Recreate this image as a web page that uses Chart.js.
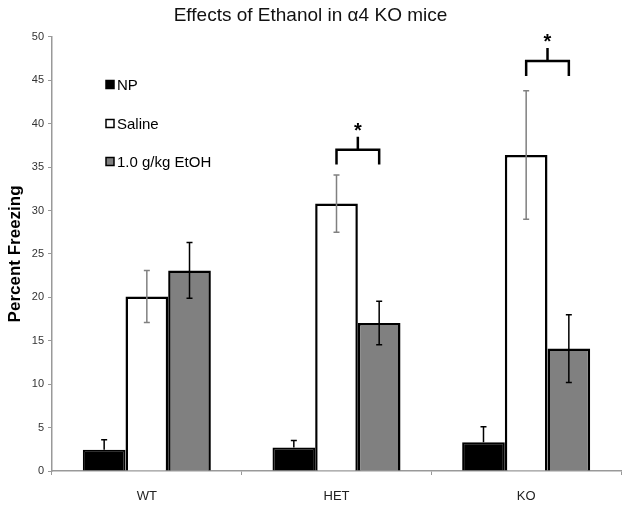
<!DOCTYPE html>
<html>
<head>
<meta charset="utf-8">
<script src="https://cdn.jsdelivr.net/npm/chart.js@4"></script>
<style>
  body { margin: 0; background: #fff; }
  #wrap { width: 628px; height: 509px; position: relative; }
</style>
</head>
<body>
<div id="wrap"><canvas id="freezeChart"></canvas></div>
<script>
// values
const categories = ['WT', 'HET', 'KO'];
const seriesNames = ['NP', 'Saline', '1.0 g/kg EtOH'];
const npValues = [2.45, 2.7, 3.3];
const npErrors = [1.15, 0.8, 1.8];
const salineValues = [20.1, 30.8, 36.4];
const salineErrors = [3.0, 3.3, 7.4];
const etohValues = [23.1, 17.05, 14.1];
const etohErrors = [3.2, 2.5, 3.9];

// significance brackets (Saline vs EtOH), leg bottom in percent units
const sigCategories = ['HET', 'KO'];
const sigLevels = [35.3, 45.5];

Chart.defaults.font.family = '"Liberation Sans", Arial, sans-serif';

const errorBars = {
    id: 'errorBars',
    afterDatasetsDraw(chart) {
        const ctx = chart.ctx;
        const yScale = chart.scales.y;
        chart.data.datasets.forEach((ds, di) => {
            const meta = chart.getDatasetMeta(di);
            meta.data.forEach((bar, i) => {
                const v = ds.data[i];
                const e = ds.errors[i];
                const top = yScale.getPixelForValue(v + e);
                const bottom = yScale.getPixelForValue(ds.upOnly ? v : v - e);
                ctx.save();
                ctx.strokeStyle = ds.errorColor;
                ctx.lineWidth = 1.5;
                ctx.beginPath();
                ctx.moveTo(bar.x, top);
                ctx.lineTo(bar.x, bottom);
                ctx.moveTo(bar.x - 3, top);
                ctx.lineTo(bar.x + 3, top);
                if (!ds.upOnly) {
                    ctx.moveTo(bar.x - 3, bottom);
                    ctx.lineTo(bar.x + 3, bottom);
                }
                ctx.stroke();
                ctx.restore();
            });
        });
    }
};

const sigBrackets = {
    id: 'sigBrackets',
    afterDatasetsDraw(chart) {
        const ctx = chart.ctx;
        const yScale = chart.scales.y;
        const salineMeta = chart.getDatasetMeta(1);
        const etohMeta = chart.getDatasetMeta(2);
        sigCategories.forEach((cat, j) => {
            const i = categories.indexOf(cat);
            const x1 = salineMeta.data[i].x;
            const x2 = etohMeta.data[i].x;
            const xm = (x1 + x2) / 2;
            const yLeg = yScale.getPixelForValue(sigLevels[j]);
            const yBar = yScale.getPixelForValue(sigLevels[j] + 1.7);
            const yStem = yScale.getPixelForValue(sigLevels[j] + 3.2);
            const yStar = yScale.getPixelForValue(sigLevels[j] + 4.5);
            ctx.save();
            ctx.strokeStyle = '#000';
            ctx.lineWidth = 2.5;
            ctx.beginPath();
            ctx.moveTo(x1, yLeg);
            ctx.lineTo(x1, yBar);
            ctx.lineTo(x2, yBar);
            ctx.lineTo(x2, yLeg);
            ctx.moveTo(xm, yBar);
            ctx.lineTo(xm, yStem);
            ctx.stroke();
            ctx.fillStyle = '#000';
            ctx.font = 'bold 20px "Liberation Sans", Arial, sans-serif';
            ctx.textAlign = 'center';
            ctx.textBaseline = 'alphabetic';
            ctx.fillText('*', xm, yStar + 11.5);
            ctx.restore();
        });
    }
};

const boxLegend = {
    id: 'boxLegend',
    afterDraw(chart) {
        const ctx = chart.ctx;
        const rows = [84.5, 123.5, 161.5];
        ctx.save();
        chart.data.datasets.forEach((ds, di) => {
            const y = rows[di];
            ctx.fillStyle = ds.backgroundColor;
            ctx.fillRect(106, y - 4, 8, 8);
            ctx.strokeStyle = '#000';
            ctx.lineWidth = 1.5;
            ctx.strokeRect(106, y - 4, 8, 8);
            ctx.fillStyle = '#000';
            ctx.font = '15px "Liberation Sans", Arial, sans-serif';
            ctx.textAlign = 'left';
            ctx.textBaseline = 'middle';
            ctx.fillText(ds.label, 117, y + 1);
        });
        ctx.restore();
    }
};

const ctx = document.getElementById('freezeChart').getContext('2d');
new Chart(ctx, {
    type: 'bar',
    data: {
        labels: categories,
        datasets: [
            { label: seriesNames[0], data: npValues, errors: npErrors, upOnly: true, errorColor: '#000',
              backgroundColor: '#000000', borderColor: '#000', borderWidth: 2 },
            { label: seriesNames[1], data: salineValues, errors: salineErrors, upOnly: false, errorColor: '#808080',
              backgroundColor: '#ffffff', borderColor: '#000', borderWidth: 2.5 },
            { label: seriesNames[2], data: etohValues, errors: etohErrors, upOnly: false, errorColor: '#000',
              backgroundColor: '#808080', borderColor: '#000', borderWidth: 2.5 }
        ]
    },
    options: {
        responsive: true,
        maintainAspectRatio: false,
        animation: false,
        layout: { padding: { left: 0, right: 7, top: 0, bottom: 0 } },
        datasets: { bar: { categoryPercentage: 0.675, barPercentage: 1 } },
        plugins: {
            legend: { display: false },
            tooltip: { enabled: false },
            title: {
                display: true,
                text: 'Effects of Ethanol in α4 KO mice',
                color: '#111',
                font: { size: 19, weight: 'normal' },
                padding: { top: 4, bottom: 10 }
            }
        },
        scales: {
            x: {
                afterFit: (s) => { s.height = 38; },
                grid: { drawOnChartArea: false, tickLength: 4, color: '#999', offset: true },
                border: { color: '#999', width: 1.5 },
                ticks: { color: '#222', font: { size: 13 }, padding: 14 }
            },
            y: {
                min: 0,
                max: 50,
                afterFit: (s) => { s.width = 52; },
                grid: { drawOnChartArea: false, tickLength: 4, color: '#999' },
                border: { color: '#999', width: 1.5 },
                ticks: { stepSize: 5, color: '#333', font: { size: 11 }, padding: 4 },
                title: {
                    display: true,
                    text: 'Percent Freezing',
                    color: '#000',
                    font: { size: 17, weight: 'bold' },
                    padding: { top: 5, bottom: 0 }
                }
            }
        }
    },
    plugins: [errorBars, sigBrackets, boxLegend]
});
</script>
</body>
</html>
